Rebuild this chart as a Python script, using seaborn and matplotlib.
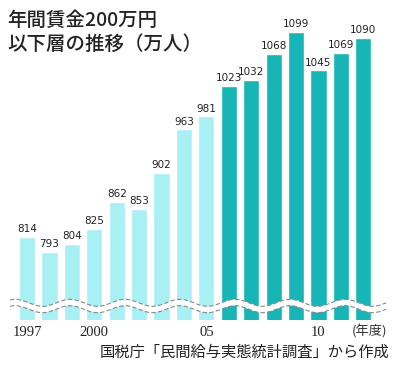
import numpy as np
import pandas as pd
import seaborn as sns
import matplotlib.pyplot as plt

# データ: 年間賃金200万円以下層 (万人)
years = [str(y) for y in range(1997, 2013)]
values = [814, 793, 804, 825, 862, 853, 902, 963, 981,
          1023, 1032, 1068, 1099, 1045, 1069, 1090]
tick_labels = {'1997': '1997', '2000': '2000', '2005': '05', '2010': '10'}

light = '#a8f0f4'
dark = '#17b5b5'
colors = [light if int(y) <= 2005 else dark for y in years]

W, H = 400, 376


def fx(px):
    return px / W


def fy(py):
    return 1 - py / H


sns.set_theme(style='white')
plt.rcParams['font.family'] = ['Noto Sans CJK JP', 'DejaVu Sans']

fig = plt.figure(figsize=(4.0, 3.76), dpi=100)
ax = fig.add_axes([fx(10), fy(320), fx(388) - fx(10), fy(15) - fy(320)])

df = pd.DataFrame({'year': years, 'value': values})
sns.barplot(data=df, x='year', y='value', hue='year', palette=colors,
            legend=False, width=0.72, saturation=1, ax=ax)

ax.set_ylim(698, 1122)
ax.set_xlim(-0.76, 16.1)
for s in ax.spines.values():
    s.set_visible(False)
ax.set_xlabel('')
ax.set_ylabel('')
ax.set_yticks([])

pos = [i for i, y in enumerate(years) if y in tick_labels]
ax.set_xticks(pos)
ax.set_xticklabels([tick_labels[years[i]] for i in pos],
                   family='Liberation Serif', fontsize=10.5, color='#222222')
ax.tick_params(axis='x', length=0, pad=4)

for c in ax.containers:
    ax.bar_label(c, padding=2, fontsize=7.5, color='#222222',
                 family=['Liberation Sans Narrow', 'DejaVu Sans'])

# 省略線 (波線)
xs = np.linspace(10, 386, 400)
ys = 306 - 3.5 * np.cos(2 * np.pi * (xs - 15) / 55)
fig.lines.append(plt.Line2D(fx(xs), fy(ys), transform=fig.transFigure,
                            color='white', lw=4.5))
for off in (-3.2, 3.2):
    fig.lines.append(plt.Line2D(fx(xs), fy(ys + off), transform=fig.transFigure,
                                color='#888888', lw=0.8, ls=(0, (4, 2))))

fig.text(fx(352), fy(331), '(年度)', fontsize=9.5, color='#333333',
         va='center', ha='left')

fig.text(fx(7), fy(11), '年間賃金200万円\n以下層の推移（万人）', fontsize=14,
         fontweight='medium', color='#222222', va='top', ha='left', linespacing=1.3)

fig.text(fx(389), fy(352), '国税庁「民間給与実態統計調査」から作成', fontsize=11,
         color='#222222', va='center', ha='right')

fig.savefig('out.png', dpi=100)
